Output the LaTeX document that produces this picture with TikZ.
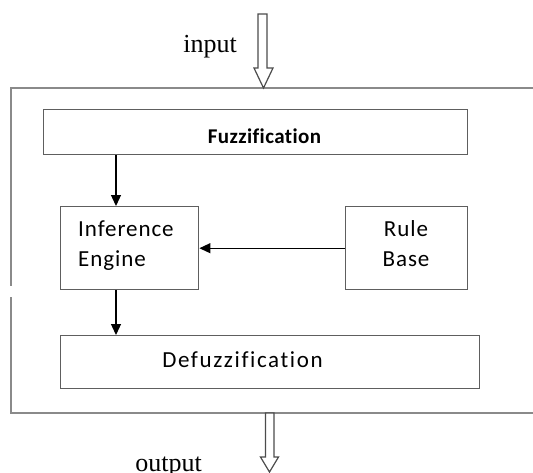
\documentclass[tikz,border=0pt]{standalone}
\usepackage{fontspec}
\setmainfont{Liberation Serif}
\newfontfamily\boxfont[LetterSpace=4,RawFeature=-liga]{Carlito}
\newfontfamily\fuzzfont[LetterSpace=2,RawFeature=-liga]{Carlito}
\newfontfamily\defuzzfont[LetterSpace=7,RawFeature=-liga]{Carlito}
\usetikzlibrary{arrows.meta}
\definecolor{outergray}{HTML}{8A8A8A}
\definecolor{boxgray}{HTML}{5E5E5E}
\tikzset{
  blk/.style={draw=boxgray, line width=1.4pt, fill=white, inner sep=0pt, anchor=north west},
  lbl/.style={inner sep=0pt, font=\boxfont\fontsize{23}{30}\selectfont},
  flow/.style={line width=1.3pt, -{Triangle[width=10pt,length=11pt]}},
  hollow/.style={draw=black!70, line width=1.2pt, fill=white, line join=miter},
  io/.style={inner sep=0pt, anchor=base, font=\fontsize{26}{30}\selectfont}
}
\begin{document}
\begin{tikzpicture}[x=1pt, y=-1pt]
\useasboundingbox (0,0) rectangle (533,472);
% outer frame (with the gap in its left side)
\draw[outergray, line width=2pt] (533,88) -- (11,88) -- (11,286);
\draw[outergray, line width=2pt] (11,297) -- (11,413) -- (533,413);
% boxes
\node[blk, minimum width=424pt, minimum height=45pt] (fuzz) at (43,109) {};
\node[blk, minimum width=138pt, minimum height=83pt] (inf) at (60,206) {};
\node[blk, minimum width=122pt, minimum height=83pt] (rule) at (345,206) {};
\node[blk, minimum width=419pt, minimum height=53pt] (defuzz) at (60,335) {};
% labels
\node[lbl, anchor=base, font=\fuzzfont\bfseries\fontsize{21}{24}\selectfont] (tfuzz) at (264.5,143) {Fuzzification};
\node[lbl, anchor=base west, align=left] (tinf) at (78,266) {Inference\\Engine};
\node[lbl, anchor=base, align=center] (trule) at (406,266) {Rule\\Base};
\node[lbl, anchor=base, font=\defuzzfont\fontsize{23}{30}\selectfont] (tdefuzz) at (242.5,367) {Defuzzification};
% connectors
\draw[flow] (fuzz.south -| 116,0) -- (inf.north -| 116,0);
\draw[flow] (rule.west) -- (inf.east);
\draw[flow] (inf.south -| 116,0) -- (defuzz.north -| 116,0);
% input / output hollow arrows
\coordinate (inTip) at (263.5,88);
\coordinate (outTop) at (269.5,413);
\draw[hollow] (258,14) -- (267,14) -- (267,68) -- (273,68) -- (inTip) -- (254,68) -- (258,68) -- cycle;
\draw[hollow] (265.5,413) -- (274,413) -- (274,457) -- (278.5,457) -- (269.5,472) -- (260.5,457) -- (265.5,457) -- cycle;
\node[io] (input) at (210,52) {input};
\node[io] (output) at (168.5,471) {output};
\end{tikzpicture}
\end{document}
